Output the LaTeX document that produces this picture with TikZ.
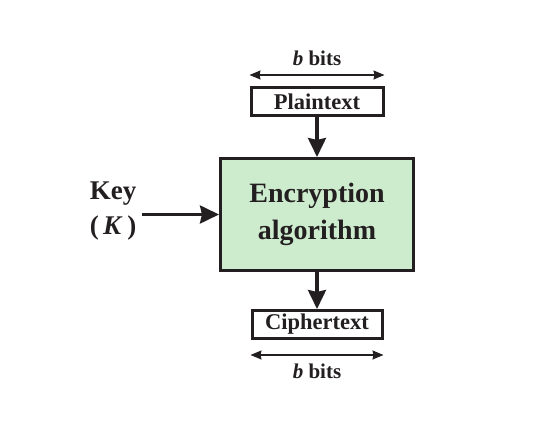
\documentclass[tikz,border=0pt]{standalone}
\usepackage{fontspec}
\setmainfont{Liberation Serif}
\usetikzlibrary{positioning,arrows.meta}
\definecolor{inkgray}{HTML}{231F20}
\definecolor{algogreen}{HTML}{CDEBCD}
\tikzset{
  blockbox/.style={draw=inkgray, line width=3pt, text=inkgray, font=\bfseries\fontsize{22.5}{26}\selectfont},
  thickarr/.style={draw=inkgray, line width=3.2pt, -{Stealth[length=19pt,width=18pt,inset=2pt]}},
  bitsarr/.style={draw=inkgray, line width=1.3pt, {Stealth[length=11pt,width=9pt,inset=1pt]}-{Stealth[length=11pt,width=9pt,inset=1pt]}},
  bitslabel/.style={text=inkgray, font=\bfseries\fontsize{21}{24}\selectfont, inner sep=2pt}
}
\begin{document}
\begin{tikzpicture}[x=1pt, y=1pt]
\useasboundingbox[fill=white] (0,0) rectangle (558,428);

\node[blockbox, fill=algogreen, minimum width=193pt, minimum height=112pt, align=center,
  font=\bfseries\fontsize{28}{37}\selectfont] (enc) at (317,213.5) {Encryption\\algorithm};
\node[blockbox, minimum width=132pt, minimum height=28pt, inner sep=0pt, above=40pt of enc] (pt) {Plaintext};
\node[blockbox, minimum width=130pt, minimum height=28pt, inner sep=0pt, below=37pt of enc] (ct) {Ciphertext};
\node[text=inkgray, font=\bfseries\fontsize{27}{35}\selectfont, align=center, inner xsep=6pt] (key) at (113,217) {Key\\(\,\textit{K}\,)};

\coordinate[above=11pt of pt.north west] (ptl);
\coordinate[above=11pt of pt.north east] (ptr);
\coordinate[below=15pt of ct.south west] (ctl);
\coordinate[below=15pt of ct.south east] (ctr);

\draw[thickarr] (pt) -- (enc);
\draw[thickarr] (enc) -- (ct);
\draw[thickarr] (key.east |- enc) -- (enc.west);

\draw[bitsarr] (ptl) -- node[bitslabel, above=7pt] (topbits) {\textit{b} bits} (ptr);
\draw[bitsarr] (ctl) -- node[bitslabel, below=6pt] (botbits) {\textit{b} bits} (ctr);
\end{tikzpicture}
\end{document}
